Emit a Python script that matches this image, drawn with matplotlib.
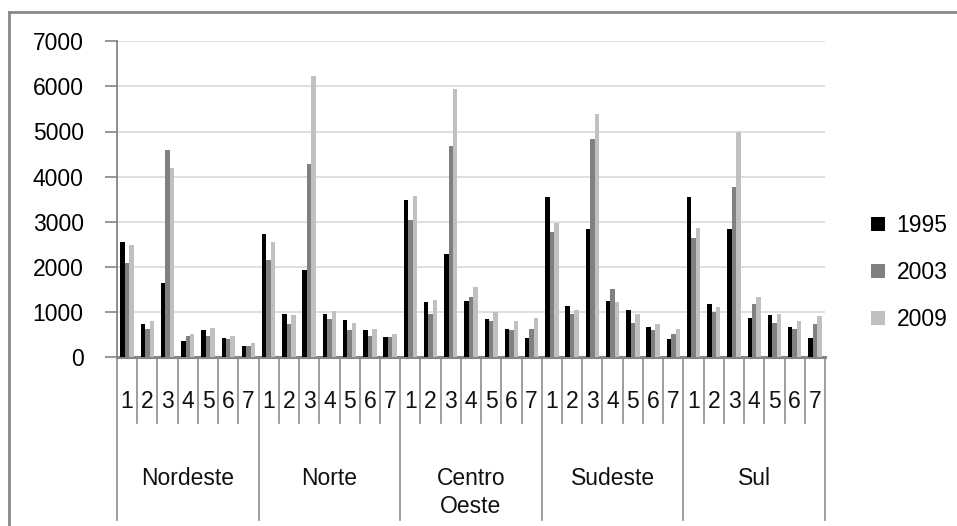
import matplotlib
matplotlib.use('Agg')
import matplotlib.pyplot as plt
from matplotlib.patches import Patch
from matplotlib.lines import Line2D
import numpy as np

plt.rcParams['font.family'] = ['Liberation Sans', 'DejaVu Sans']

regions = ['Nordeste', 'Norte', 'Centro\nOeste', 'Sudeste', 'Sul']
classes = ['1', '2', '3', '4', '5', '6', '7']
years = ['1995', '2003', '2009']
colors = ['#000000', '#808080', '#c0c0c0']

v1995 = [2540, 735, 1645, 355, 600, 420, 245,
         2735, 955, 1935, 955, 820, 600, 445,
         3490, 1225, 2290, 1245, 845, 620, 420,
         3555, 1135, 2845, 1245, 1045, 665, 400,
         3555, 1180, 2845, 865, 935, 665, 420]
v2003 = [2090, 620, 4600, 465, 465, 400, 245,
         2155, 735, 4270, 845, 600, 465, 445,
         3045, 955, 4670, 1335, 800, 600, 620,
         2780, 955, 4825, 1510, 755, 600, 510,
         2645, 1000, 3780, 1180, 755, 620, 735]
v2009 = [2490, 800, 4200, 510, 645, 465, 310,
         2555, 935, 6225, 1025, 755, 620, 510,
         3580, 1265, 5935, 1555, 1000, 800, 865,
         2980, 1045, 5380, 1225, 955, 735, 620,
         2870, 1110, 5000, 1335, 955, 800, 910]
series = [v1995, v2003, v2009]

W, H = 957, 526
fig = plt.figure(figsize=(W / 100, H / 100), dpi=100)
fig.patch.set_facecolor('white')

# plot box in pixels
x0, x1, ytop, ybot = 117, 825, 41.3, 357
ax = fig.add_axes([x0 / W, 1 - ybot / H, (x1 - x0) / W, (ybot - ytop) / H])
axh = ybot - ytop

n = len(regions) * len(classes)
x = np.arange(n)
bw = 0.22
for k, (vals, c) in enumerate(zip(series, colors)):
    ax.bar(x + (k - 1) * bw, vals, width=bw, color=c, label=years[k], zorder=3)

ax.set_xlim(-0.5, n - 0.5)
ax.set_ylim(0, 7000)
ax.set_yticks(range(0, 7001, 1000))
ax.yaxis.grid(True, color='#d9d9d9', linewidth=1.2, zorder=0)
ax.set_axisbelow(True)
ax.tick_params(axis='y', length=9, width=1.2, color='#868686', pad=15, labelsize=16.5)
ax.set_xticks([])
for s in ['top', 'right']:
    ax.spines[s].set_visible(False)
ax.spines['left'].set_color('#868686')
ax.spines['left'].set_linewidth(1.3)
ax.spines['bottom'].set_color('#868686')
ax.spines['bottom'].set_linewidth(2.2)

# multi-level category axis below the plot
tr = ax.get_xaxis_transform()
y_num = -(402 - ybot) / axh
y_sub = -(423 - ybot) / axh
y_grp = -(520 - ybot) / axh
y_lab = -(467 - ybot) / axh
for i in range(n):
    ax.text(i, y_num, classes[i % len(classes)], transform=tr, ha='center',
            va='center', fontsize=16.5, color='#111111')
for b in range(n + 1):
    bottom = y_grp if b % len(classes) == 0 else y_sub
    ax.add_line(Line2D([b - 0.5, b - 0.5], [0, bottom], transform=tr,
                       color='#8c8c8c', linewidth=1.2, clip_on=False))
for g, name in enumerate(regions):
    xc = g * len(classes) + (len(classes) - 1) / 2
    ax.text(xc, y_lab, name, transform=tr, ha='center', va='top',
            fontsize=16.5, color='#111111', linespacing=1.3)

handles = [Patch(facecolor=c, edgecolor='none') for c in colors]
fig.legend(handles, years, loc='upper left', bbox_to_anchor=(862 / W, 1 - 205 / H),
           frameon=False, fontsize=16.5, handlelength=0.6, handleheight=0.6,
           handletextpad=0.5, labelspacing=1.05, borderaxespad=0)

# outer frame
fig.add_artist(Line2D([9 / W, 9 / W], [0, 1 - 12 / H], transform=fig.transFigure,
                      color='#898989', linewidth=2))
fig.add_artist(Line2D([9 / W, 1], [1 - 12 / H, 1 - 12 / H], transform=fig.transFigure,
                      color='#898989', linewidth=2))

fig.savefig('out.png', dpi=100)
